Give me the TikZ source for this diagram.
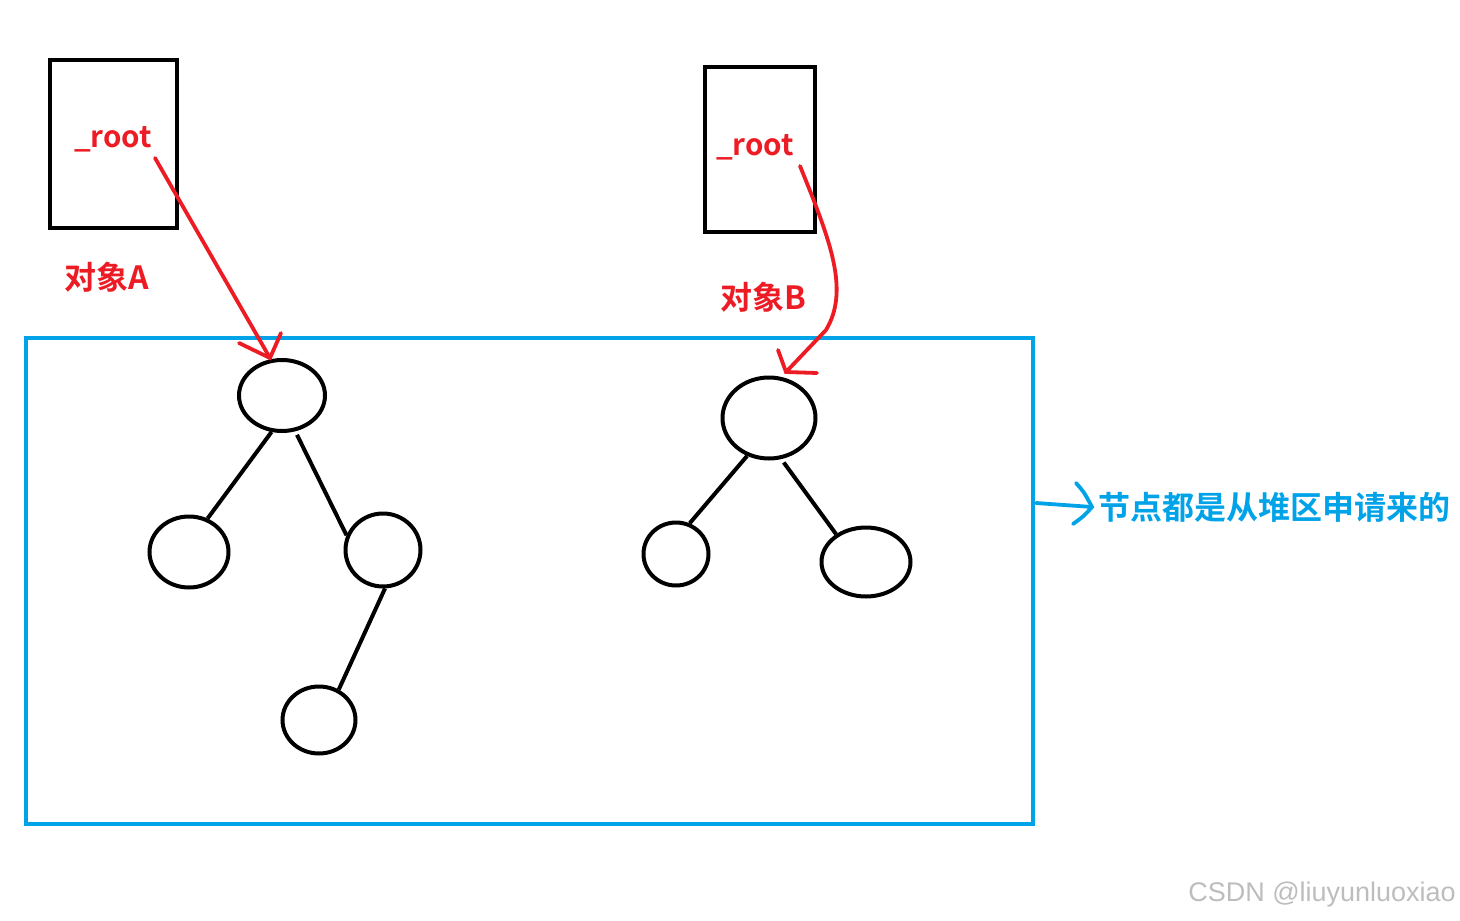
\documentclass[tikz,border=0pt]{standalone}
\usepackage{fontspec}
\usetikzlibrary{shapes.geometric}
\setmainfont{Noto Sans CJK SC}
\newfontfamily\cjkb{Noto Sans CJK SC Bold}
\newfontfamily\wmfont{Liberation Sans}
\definecolor{myred}{HTML}{ED1C24}
\definecolor{myblue}{HTML}{00A2E8}
\definecolor{wmgray}{HTML}{BDBDBD}
\begin{document}
\begin{tikzpicture}[x=1pt,y=-1pt,
  obj/.style={draw=black,line width=4.5pt},
  tnode/.style={draw=black,line width=4pt,ellipse,inner sep=0pt},
  edge/.style={draw=black,line width=4pt},
  redl/.style={draw=myred,line width=3.8pt,line cap=round},
  bluel/.style={draw=myblue,line width=3.8pt,line cap=round},
  rtext/.style={text=myred,font=\cjkb\fontsize{29.5}{31}\selectfont,inner sep=0pt},
  ctext/.style={text=myred,font=\cjkb\fontsize{32}{34}\selectfont,inner sep=0pt}]
\useasboundingbox (0,0) rectangle (1460,921);
% object boxes
\node[obj,minimum width=127pt,minimum height=168pt,inner sep=0pt] (boxa) at (113.5,144) {};
\node[obj,minimum width=110pt,minimum height=165pt,inner sep=0pt] (boxb) at (760,149.5) {};
\node[rtext] (ra) at (113,139) {\_root};
\node[rtext] (rb) at (755,147) {\_root};
\node[ctext] (oa) at (107,277) {对象A};
\node[ctext] (ob) at (763,297) {对象B};
% heap region
\node[draw=myblue,line width=3.8pt,minimum width=1007pt,minimum height=486pt,inner sep=0pt] (heap) at (529.5,581) {};
% tree A
\node[tnode,minimum width=86pt,minimum height=71pt] (a0) at (282,395.5) {};
\node[tnode,minimum width=79pt,minimum height=71pt] (a1) at (189,552) {};
\node[tnode,minimum width=75pt,minimum height=73pt] (a2) at (383,550) {};
\node[tnode,minimum width=73pt,minimum height=67pt] (a3) at (319,720) {};
\draw[edge] (a0.-106) -- (a1.61);
\draw[edge] ([yshift=-4pt]a0.-67) -- (a2.158);
\draw[edge] (a2.-87) -- (a3.57);
% tree B
\node[tnode,minimum width=93pt,minimum height=81pt] (b0) at (769,418) {};
\node[tnode,minimum width=65pt,minimum height=63pt] (b1) at (676,554) {};
\node[tnode,minimum width=89pt,minimum height=69pt] (b2) at (866,562) {};
\draw[edge] (b0.-120) -- (b1.66);
\draw[edge] ([yshift=-4pt]b0.-70) -- (b2.137);
% red arrow A
\coordinate (sa) at (155,158);
\coordinate (ta) at (270,358);
\draw[redl] (sa) -- (ta);
\draw[redl] (239,343) -- (ta) -- (281,333);
% red arrow B
\coordinate (sb) at (800,166);
\coordinate (tb) at (786,372);
\draw[redl] (sb) .. controls (830,240) and (850,290) .. (826,330) -- (tb);
\draw[redl] (778,350) -- (tb) -- (817,373);
% blue arrow
\coordinate (bs) at (1036,503);
\coordinate (bt) at (1092,507);
\draw[bluel] (bs) -- (bt);
\draw[bluel] (1076,483) .. controls (1084,492) .. (bt) .. controls (1084,516) .. (1073,524);
\node[text=myblue,font=\cjkb\fontsize{32}{34}\selectfont,inner sep=0pt,anchor=west] (note) at (1098,507) {节点都是从堆区申请来的};
% watermark
\node[text=wmgray,font=\wmfont\fontsize{27}{29}\selectfont,inner sep=0pt,anchor=east] (wm) at (1456,895) {CSDN @liuyunluoxiao};
\end{tikzpicture}
\end{document}
